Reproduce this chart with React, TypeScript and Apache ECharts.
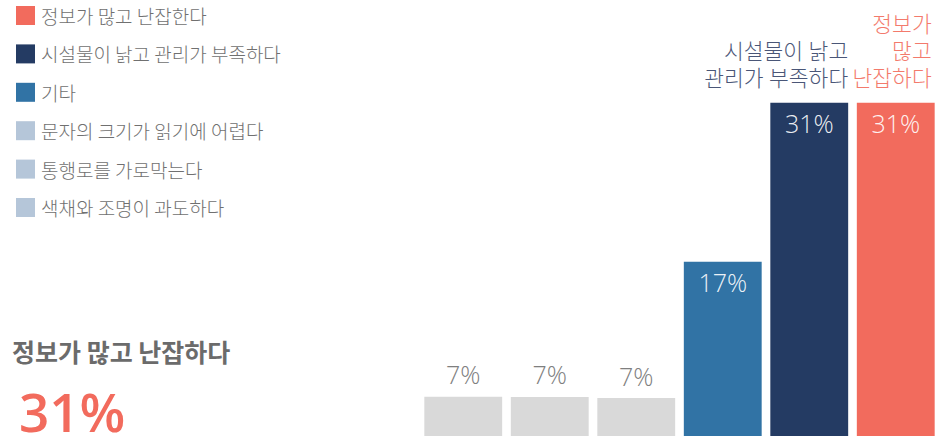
import React, { useEffect, useRef } from "react";
import * as echarts from "echarts";

// Categories, left to right on the chart
const categories = [
  "색채와 조명이 과도하다",
  "통행로를 가로막는다",
  "문자의 크기가 읽기에 어렵다",
  "기타",
  "시설물이 낡고 관리가 부족하다",
  "정보가 많고 난잡한다",
];
// Bar heights
const values = [3.66, 3.63, 3.53, 16.2, 31, 31];
// Value labels as printed
const valueLabels = ["7%", "7%", "7%", "17%", "31%", "31%"];
// Annotations drawn above the highlighted bars
const annotations = ["", "", "", "", "시설물이 낡고\n관리가 부족하다", "정보가\n많고\n난잡하다"];
const barColors = ["#D9D9D9", "#D9D9D9", "#D9D9D9", "#3173A5", "#243B63", "#F26B5D"];
const legendColors = ["#B5C6D9", "#B5C6D9", "#B5C6D9", "#3173A5", "#243B63", "#F26B5D"];
const annotationColors = ["", "", "", "", "#4A5677", "#F37A6C"];
const highlightIndex = 5;

const FONT = "'Open Sans', 'Noto Sans CJK KR', sans-serif";
const KFONT = "'Noto Sans CJK KR', 'Open Sans', sans-serif";

export default function App() {
  const ref = useRef<HTMLDivElement>(null);
  useEffect(() => {
    if (!ref.current) return;
    const chart = echarts.init(ref.current, undefined, { renderer: "svg" });
    const n = categories.length;
    const series: any[] = categories.map((name, i) => ({
      type: "bar",
      name,
      stack: "all",
      barCategoryGap: "10%",
      barGap: "-100%",
      silent: true,
      itemStyle: { color: barColors[i] },
      label: {
        show: true,
        position: values[i] > 10 ? "insideTop" : "top",
        distance: values[i] > 10 ? 8 : 10,
        formatter: () => valueLabels[i],
        fontFamily: FONT,
        fontWeight: 300,
        fontSize: 25,
        color: values[i] > 10 ? "rgba(255,255,255,0.92)" : "#7F7F7F",
      },
      data: values.map((v, j) => (j === i ? v : "-")),
    }));
    series.push({
      type: "bar",
      name: "__annotations",
      barCategoryGap: "10%",
      barGap: "-100%",
      silent: true,
      itemStyle: { color: "rgba(0,0,0,0)" },
      data: values.map((v, j) =>
        annotations[j]
          ? {
              value: v,
              label: {
                show: true,
                position: ["100%", 0],
                align: "right",
                verticalAlign: "bottom",
                offset: [j === n - 1 ? -3 : 0, -12],
                formatter: annotations[j],
                fontFamily: FONT,
                fontWeight: 300,
                fontSize: 21.5,
                lineHeight: 27,
                color: annotationColors[j],
              },
            }
          : "-"
      ),
    });

    const legendData = categories
      .map((name, i) => ({ name, itemStyle: { color: legendColors[i] } }))
      .reverse();

    chart.setOption({
      animation: false,
      title: [
        {
          text: annotations[highlightIndex].split("\n").join(" "),
          left: 7,
          top: 333,
          textStyle: { fontFamily: KFONT, fontSize: 25, fontWeight: "bold", color: "#6B6B6B" },
        },
        {
          text: valueLabels[highlightIndex],
          left: 14,
          top: 382,
          textStyle: { fontFamily: FONT, fontSize: 53, fontWeight: 600, color: barColors[highlightIndex], lineHeight: 48 },
        },
      ],
      legend: {
        orient: "vertical",
        left: 11,
        top: 1,
        itemWidth: 19,
        itemHeight: 19,
        itemGap: 19.4,
        icon: "rect",
        selectedMode: false,
        data: legendData,
        textStyle: {
          fontFamily: KFONT,
          fontWeight: 300,
          fontSize: 19,
          lineHeight: 19,
          color: "#707070",
          padding: [0, 0, 0, 1],
        },
      },
      grid: { left: 420, right: 2, top: 6, bottom: 5 },
      xAxis: {
        type: "category",
        data: categories,
        show: false,
      },
      yAxis: { type: "value", min: 0, max: 40, show: false },
      series,
    });
    return () => chart.dispose();
  }, []);
  return (
    <div
      ref={ref}
      style={{ position: "absolute", left: 0, top: 0, width: 941, height: 441, background: "#fff" }}
    />
  );
}
